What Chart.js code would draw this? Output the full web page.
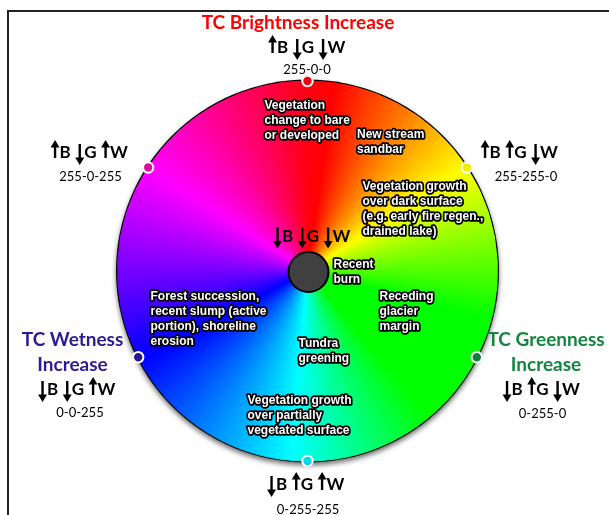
<!DOCTYPE html>
<html>
<head>
<meta charset="utf-8">
<script src="https://cdn.jsdelivr.net/npm/chart.js@4.4.1/dist/chart.umd.min.js"></script>
<style>
  html, body { margin: 0; padding: 0; background: #fff; }
  #wrap { width: 609px; height: 515px; position: relative; }
</style>
</head>
<body>
<div id="wrap"><canvas id="rueda"></canvas></div>
<script>
// anchor points on the wheel, degrees clockwise from the top
const anclas = ['Brightness', 'Yellow', 'Greenness', 'Cyan', 'Wetness', 'Magenta'];
const angulos = [0, 57, 117, 180, 243, 303];
const codigosRGB = ['255-0-0', '255-255-0', '0-255-0', '0-255-255', '0-0-255', '255-0-255'];
// B, G, W  (1 = up, -1 = down)
const flechas = [[1, -1, -1], [1, 1, -1], [-1, 1, -1], [-1, 1, 1], [-1, -1, 1], [1, -1, 1]];
const flechasCentro = [-1, -1, -1];
const colorPunto = ['#ee0010', '#f2ee00', '#0f7f3a', '#00d9e6', '#2a1890', '#d8109e'];
const titulos = [['TC Brightness Increase'], [], ['TC Greenness', 'Increase'], [], ['TC Wetness', 'Increase'], []];
const colorTitulo = ['#ff0000', null, '#13853f', null, '#2b1c93', null];

// hue stops of the wheel
const tonosGrados = [0, 8, 57, 105, 140, 185, 242, 303, 360];
const tonosColor = ['#ff0010', '#ff0000', '#ffff00', '#00ff00', '#00ff00', '#00ffff', '#0000ff', '#ff00ff', '#ff0010'];

// notes inside the wheel
const notas = [
  ['Vegetation', 'change to bare', 'or developed'],
  ['New stream', 'sandbar'],
  ['Vegetation growth', 'over dark surface', '(e.g. early fire regen.,', 'drained lake)'],
  ['Recent', 'burn'],
  ['Receding', 'glacier', 'margin'],
  ['Tundra', 'greening'],
  ['Vegetation growth', 'over partially', 'vegetated surface'],
  ['Forest succession,', 'recent slump (active', 'portion), shoreline', 'erosion']
];

// layout (offsets from the wheel centre)
const posNotas = [[-43, -162], [49.5, -133], [55, -81], [26, -3], [72, 29], [-9, 76], [-60, 133], [-157, 29]];
const posTitulo = [[-9.5, -242], null, [238.5, 75], null, [-235, 75], null];
const posFlechas = [[-0.5, -218], [212, -113], [234, 124], [-1.5, 219], [-230.5, 124], [-218, -113]];
const posCodigo = [[-0.5, -197], [218.5, -90.5], [235, 147], [0.5, 242.5], [-227.5, 145.5], [-217, -90.5]];

const spans = angulos.map((a, i) => (i < angulos.length - 1 ? angulos[i + 1] : 360) - a);

let gradiente = null;
function conico(ctx) {
  const chart = ctx.chart;
  const area = chart.chartArea;
  if (!area) return '#ff0000';
  if (gradiente) return gradiente;
  const cx = (area.left + area.right) / 2, cy = (area.top + area.bottom) / 2;
  gradiente = chart.ctx.createConicGradient(-Math.PI / 2, cx, cy);
  tonosGrados.forEach((g, i) => gradiente.addColorStop(g / 360, tonosColor[i]));
  return gradiente;
}

function dibujarFlechas(ctx, cx, base, dirs) {
  ctx.save();
  ctx.font = 'bold 17px Lato';
  ctx.fillStyle = '#000';
  ctx.strokeStyle = '#000';
  ctx.textAlign = 'left';
  ctx.textBaseline = 'alphabetic';
  const letras = ['B', 'G', 'W'];
  const anchos = letras.map(l => ctx.measureText(l).width);
  const cabeza = 8, hueco = 5;
  let total = 0;
  anchos.forEach((w, i) => total += cabeza + 0.5 + w + (i < 2 ? hueco : 0));
  let x = cx - total / 2;
  letras.forEach((l, i) => {
    const sx = x + 4;
    ctx.lineWidth = 2.4;
    ctx.beginPath();
    if (dirs[i] > 0) {
      const top = base - 18;
      ctx.moveTo(sx, base); ctx.lineTo(sx, top + 5); ctx.stroke();
      ctx.beginPath(); ctx.moveTo(sx, top); ctx.lineTo(sx - 4.5, top + 7.5); ctx.lineTo(sx + 4.5, top + 7.5); ctx.closePath(); ctx.fill();
    } else {
      const tip = base + 7;
      ctx.moveTo(sx, base - 14); ctx.lineTo(sx, tip - 5); ctx.stroke();
      ctx.beginPath(); ctx.moveTo(sx, tip); ctx.lineTo(sx - 4.5, tip - 7.5); ctx.lineTo(sx + 4.5, tip - 7.5); ctx.closePath(); ctx.fill();
    }
    ctx.fillText(l, x + cabeza + 0.5, base);
    x += cabeza + 0.5 + anchos[i] + hueco;
  });
  ctx.restore();
}

const decorado = {
  id: 'decorado',
  beforeDraw(chart) {
    const ctx = chart.ctx;
    ctx.save();
    ctx.fillStyle = '#fff';
    ctx.fillRect(0, 0, chart.width, chart.height);
    ctx.strokeStyle = '#222';
    ctx.lineWidth = 2;
    ctx.beginPath();
    ctx.moveTo(609, 11); ctx.lineTo(8, 11); ctx.lineTo(8, 515);
    ctx.stroke();
    ctx.restore();
  },
  beforeDatasetsDraw(chart) {
    const arc = chart.getDatasetMeta(0).data[0];
    if (!arc) return;
    const ctx = chart.ctx;
    ctx.save();
    ctx.shadowColor = 'rgba(0,0,0,0.55)';
    ctx.shadowBlur = 5;
    ctx.shadowOffsetY = 3;
    ctx.fillStyle = '#000';
    ctx.beginPath();
    ctx.arc(arc.x, arc.y, arc.outerRadius + 1.5, 0, Math.PI * 2);
    ctx.fill();
    ctx.restore();
  },
  afterDatasetsDraw(chart) {
    const meta = chart.getDatasetMeta(0);
    const ctx = chart.ctx;
    const c0 = meta.data[0];
    const cx = c0.x, cy = c0.y, R = c0.outerRadius;

    // centre disc
    ctx.save();
    ctx.fillStyle = '#404040';
    ctx.strokeStyle = '#000';
    ctx.lineWidth = 2;
    ctx.beginPath();
    ctx.arc(cx + 1, cy + 1, 20, 0, Math.PI * 2);
    ctx.fill();
    ctx.stroke();

    // anchor dots
    meta.data.forEach((a, i) => {
      const x = a.x + Math.cos(a.startAngle) * R;
      const y = a.y + Math.sin(a.startAngle) * R;
      ctx.fillStyle = colorPunto[i];
      ctx.strokeStyle = '#fff';
      ctx.lineWidth = 2;
      ctx.beginPath();
      ctx.arc(x, y, 5.2, 0, Math.PI * 2);
      ctx.fill();
      ctx.stroke();
    });

    // notes inside the wheel
    ctx.font = 'bold 12px "Liberation Sans"';
    ctx.textAlign = 'left';
    ctx.textBaseline = 'alphabetic';
    ctx.lineJoin = 'round';
    notas.forEach((lineas, i) => {
      lineas.forEach((t, j) => {
        const x = cx + posNotas[i][0], y = cy + posNotas[i][1] + j * 15;
        ctx.strokeStyle = '#000';
        ctx.lineWidth = 3.5;
        ctx.strokeText(t, x, y);
        ctx.fillStyle = '#fff';
        ctx.fillText(t, x, y);
      });
    });

    // outer labels
    ctx.textAlign = 'center';
    anclas.forEach((n, i) => {
      if (posTitulo[i]) {
        ctx.font = 'bold 19px Lato';
        ctx.fillStyle = colorTitulo[i];
        titulos[i].forEach((t, j) => ctx.fillText(t, cx + posTitulo[i][0], cy + posTitulo[i][1] + j * 25));
      }
      dibujarFlechas(ctx, cx + posFlechas[i][0], cy + posFlechas[i][1], flechas[i]);
      ctx.font = '13px Lato';
      ctx.fillStyle = '#000';
      ctx.textAlign = 'center';
      ctx.fillText(codigosRGB[i], cx + posCodigo[i][0], cy + posCodigo[i][1]);
    });
    dibujarFlechas(ctx, cx + 4.5, cy - 29.5, flechasCentro);
    ctx.restore();
  }
};

const ctxRueda = document.getElementById('rueda');
new Chart(ctxRueda, {
  type: 'pie',
  data: {
    labels: anclas,
    datasets: [{
      data: spans,
      backgroundColor: conico,
      borderColor: conico,
      borderWidth: 1
    }]
  },
  options: {
    responsive: true,
    maintainAspectRatio: false,
    animation: false,
    radius: 190,
    layout: { padding: { top: 80, bottom: 53, left: 100, right: 94 } },
    plugins: {
      legend: { display: false },
      tooltip: { enabled: false }
    }
  },
  plugins: [decorado]
});
</script>
</body>
</html>
